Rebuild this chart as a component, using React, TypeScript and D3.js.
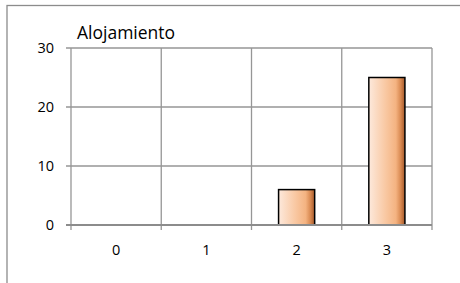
import React, { useEffect, useRef } from "react";
import * as d3 from "d3";

const categories = ["0", "1", "2", "3"];
const values = [0, 0, 6, 25];
const yTicks = [0, 10, 20, 30];
const title = "Alojamiento";

const App = () => {
  const ref = useRef<SVGSVGElement | null>(null);

  useEffect(() => {
    const width = 460;
    const height = 283;
    const margin = { top: 48, right: 28, bottom: 58, left: 71 };
    const font = "'Open Sans', sans-serif";

    const svg = d3.select(ref.current);
    svg.selectAll("*").remove();

    const defs = svg.append("defs");
    const grad = defs
      .append("linearGradient")
      .attr("id", "barGrad")
      .attr("x1", "0%")
      .attr("x2", "100%")
      .attr("y1", "0%")
      .attr("y2", "0%");
    grad.append("stop").attr("offset", "0%").attr("stop-color", "#fde9dc");
    grad.append("stop").attr("offset", "45%").attr("stop-color", "#f9c9a4");
    grad.append("stop").attr("offset", "75%").attr("stop-color", "#f4b381");
    grad.append("stop").attr("offset", "88%").attr("stop-color", "#d98a52");
    grad.append("stop").attr("offset", "100%").attr("stop-color", "#a5582a");

    // outer chart frame
    svg
      .append("rect")
      .attr("x", 7)
      .attr("y", 5.5)
      .attr("width", 470)
      .attr("height", 300)
      .attr("fill", "white")
      .attr("stroke", "#8c8c8c")
      .attr("stroke-width", 1.3);

    const w = width - margin.left - margin.right;
    const h = height - margin.top - margin.bottom;

    const x = d3.scaleBand().domain(categories).range([0, w]).paddingInner(0).paddingOuter(0);
    const y = d3.scaleLinear().domain([0, 30]).range([h, 0]);

    const g = svg.append("g").attr("transform", `translate(${margin.left},${margin.top})`);
    const gridColor = "#969696";

    // horizontal grid
    g.selectAll(".hgrid")
      .data(yTicks)
      .enter()
      .append("line")
      .attr("x1", -5)
      .attr("x2", w)
      .attr("y1", (d) => y(d))
      .attr("y2", (d) => y(d))
      .attr("stroke", gridColor)
      .attr("stroke-width", 1.3);

    // vertical grid
    const xs = categories.map((c) => x(c) as number).concat([w]);
    g.selectAll(".vgrid")
      .data(xs)
      .enter()
      .append("line")
      .attr("x1", (d) => d)
      .attr("x2", (d) => d)
      .attr("y1", 0)
      .attr("y2", h + 5)
      .attr("stroke", gridColor)
      .attr("stroke-width", 1.3);

    const bw = x.bandwidth() * 0.4;
    g.selectAll(".bar")
      .data(values.map((v, i) => ({ v, c: categories[i] })).filter((d) => d.v > 0))
      .enter()
      .append("rect")
      .attr("x", (d) => (x(d.c) as number) + x.bandwidth() / 2 - bw / 2)
      .attr("y", (d) => y(d.v))
      .attr("width", bw)
      .attr("height", (d) => h - y(d.v))
      .attr("fill", "url(#barGrad)")
      .attr("stroke", "#000")
      .attr("stroke-width", 1.5);

    // redraw baseline on top of bars
    g.append("line")
      .attr("x1", -5)
      .attr("x2", w)
      .attr("y1", h)
      .attr("y2", h)
      .attr("stroke", "#8c8c8c")
      .attr("stroke-width", 1.8);

    g.selectAll(".ylab")
      .data(yTicks)
      .enter()
      .append("text")
      .attr("x", -17)
      .attr("y", (d) => y(d))
      .attr("dy", "0.35em")
      .attr("text-anchor", "end")
      .attr("font-family", font)
      .attr("font-size", 14.5)
      .attr("fill", "#000")
      .text((d) => d);

    g.selectAll(".xlab")
      .data(categories)
      .enter()
      .append("text")
      .attr("x", (d) => (x(d) as number) + x.bandwidth() / 2)
      .attr("y", h + 25)
      .attr("dy", "0.35em")
      .attr("text-anchor", "middle")
      .attr("font-family", font)
      .attr("font-size", 14.5)
      .attr("fill", "#000")
      .text((d) => d);

    svg
      .append("text")
      .attr("x", 77)
      .attr("y", 39)
      .attr("font-family", font)
      .attr("font-size", 17.5)
      .attr("fill", "#000")
      .text(title);
  }, []);

  return (
    <svg
      ref={ref}
      width={460}
      height={283}
      style={{ position: "absolute", left: 0, top: 0, display: "block" }}
    />
  );
};

export default App;
